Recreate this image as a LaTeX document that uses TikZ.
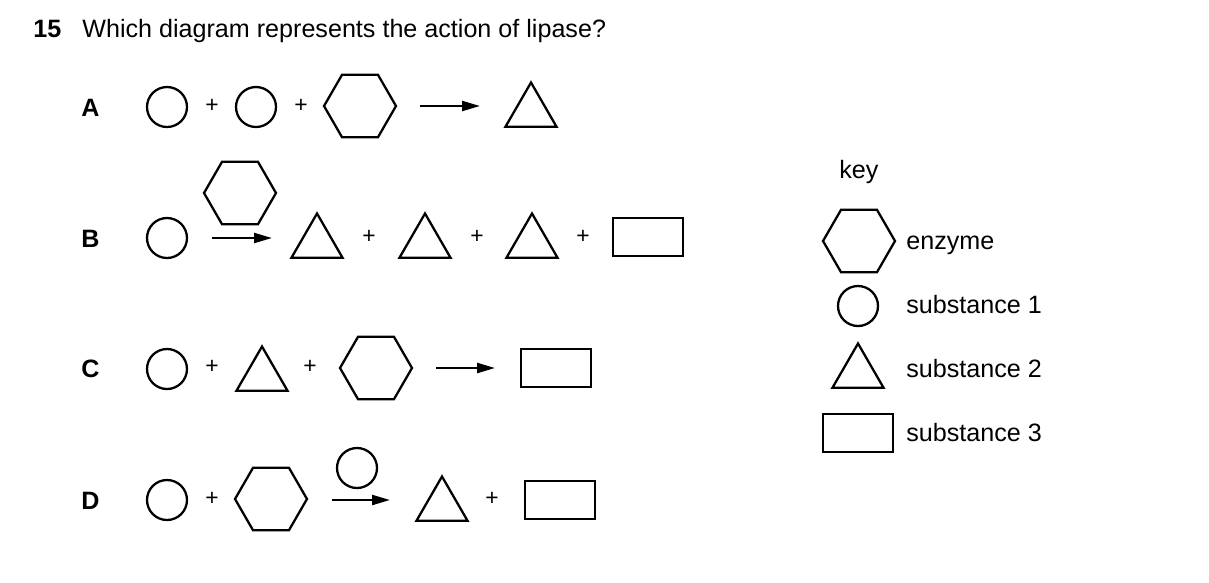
\documentclass[tikz,border=0pt]{standalone}
\usepackage{fontspec}
\setmainfont{Liberation Sans}
\usetikzlibrary{shapes.geometric,arrows.meta}
\tikzset{
  shp/.style={draw,line width=1.3pt,inner sep=0pt,outer sep=0pt},
  hexa/.style={shp,regular polygon,regular polygon sides=6,minimum size=1.44cm},
  circ/.style={shp,circle,minimum size=0.8cm},
  tri/.style={shp,regular polygon,regular polygon sides=3,minimum size=1.18cm},
  rect/.style={shp,rectangle,minimum width=1.4cm,minimum height=0.76cm},
  plus/.style={font=\fontsize{13}{15}\selectfont,inner sep=0pt},
  lbl/.style={font=\fontsize{14.3}{17}\selectfont\bfseries,anchor=base west,inner sep=0pt},
  txt/.style={font=\fontsize{14.3}{17}\selectfont,anchor=base west,inner sep=0pt},
  arr/.style={line width=1.3pt,-{Triangle[length=0.36cm,width=0.2cm]}}
}
\begin{document}
\begin{tikzpicture}[x=0.02cm,y=-0.02cm]
	\useasboundingbox (0,0) rectangle (1209,582);
	
	% question
	\node[lbl] (qnum) at (33,37) {15};
	\node[txt] (qtext) at (82,37) {Which diagram represents the action of lipase?};
	
	% option A
	\node[lbl] (lblA) at (81,116) {A};
	\node[circ] (subA1) at (167,107) {};
	\node[plus] (plusA1) at (212,106) {+};
	\node[circ] (subA2) at (256,107) {};
	\node[plus] (plusA2) at (301,106) {+};
	\node[hexa] (enzA) at (360,106) {};
	\coordinate (arrA0) at (420,106);
	\coordinate (arrA1) at (480,106);
	\draw[arr] (arrA0) -- (arrA1);
	\node[tri] (prodA) at (531,112) {};
	
	% option B
	\node[lbl] (lblB) at (81,247) {B};
	\node[circ] (subB) at (167,238) {};
	\node[hexa] (enzB) at (240,193) {};
	\coordinate (arrB0) at (212,238);
	\coordinate (arrB1) at (272,238);
	\draw[arr] (arrB0) -- (arrB1);
	\node[tri] (prodB1) at (317,243) {};
	\node[plus] (plusB1) at (369,237) {+};
	\node[tri] (prodB2) at (425,243) {};
	\node[plus] (plusB2) at (477,237) {+};
	\node[tri] (prodB3) at (532,243) {};
	\node[plus] (plusB3) at (583,237) {+};
	\node[rect] (prodB4) at (648,237) {};
	
	% option C
	\node[lbl] (lblC) at (81,377) {C};
	\node[circ] (subC1) at (167,369) {};
	\node[plus] (plusC1) at (212,367) {+};
	\node[tri] (subC2) at (262,376) {};
	\node[plus] (plusC2) at (310,367) {+};
	\node[hexa] (enzC) at (376,368) {};
	\coordinate (arrC0) at (436,368);
	\coordinate (arrC1) at (495,368);
	\draw[arr] (arrC0) -- (arrC1);
	\node[rect] (prodC) at (556,368) {};
	
	% option D
	\node[lbl] (lblD) at (81,509) {D};
	\node[circ] (subD) at (167,500) {};
	\node[plus] (plusD1) at (212,499) {+};
	\node[hexa] (enzD) at (271,499) {};
	\node[circ] (catD) at (357,468) {};
	\coordinate (arrD0) at (332,500);
	\coordinate (arrD1) at (390,500);
	\draw[arr] (arrD0) -- (arrD1);
	\node[tri] (prodD1) at (442,506) {};
	\node[plus] (plusD2) at (492,499) {+};
	\node[rect] (prodD2) at (560,500) {};
	
	% key
	\node[txt] (keyhead) at (839,178) {key};
	\node[hexa] (keyenz) at (859,241) {};
	\node[txt] (keyenzt) at (906,249) {enzyme};
	\node[circ] (keyone) at (858,306) {};
	\node[txt] (keyonet) at (906,313) {substance 1};
	\node[tri] (keytwo) at (858,373) {};
	\node[txt] (keytwot) at (906,377) {substance 2};
	\node[rect] (keythree) at (858,433) {};
	\node[txt] (keythreet) at (906,441) {substance 3};
\end{tikzpicture}
\end{document}
